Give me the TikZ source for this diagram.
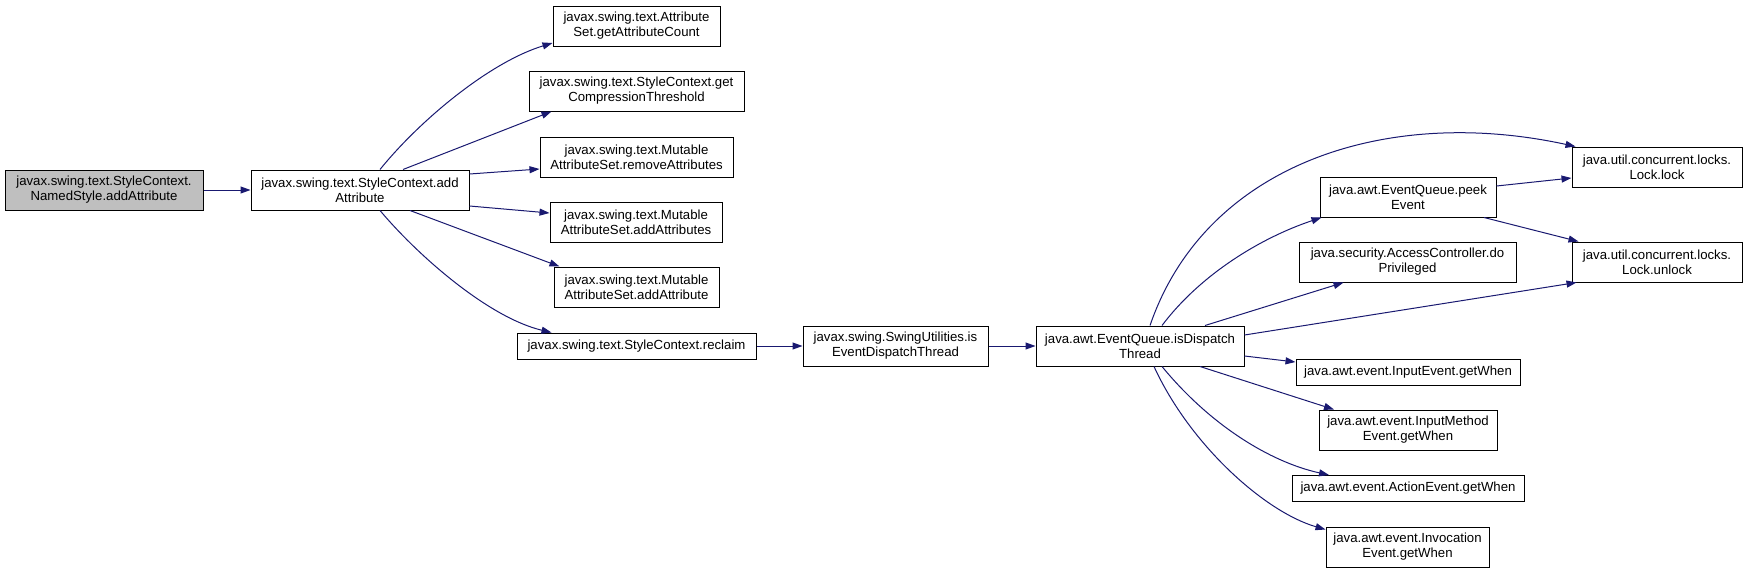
\documentclass[tikz,border=0pt]{standalone}
\usepackage{fontspec}
\setmainfont{Liberation Sans}
\usepackage{xcolor}
\usetikzlibrary{arrows.meta, positioning}
\definecolor{edgeblue}{HTML}{191970}
\definecolor{rootgray}{HTML}{BFBFBF}
\tikzset{
  fn/.style 2 args={draw=black, line width=1pt, inner sep=0pt, align=center,
    minimum width=#1, minimum height=#2, font=\fontsize{13.2}{15}\selectfont},
  call/.style={->, draw=edgeblue, line width=1pt},
}

\begin{document}
\begin{tikzpicture}[>={Triangle[length=10pt,width=7pt]}, x=1pt, y=-1pt]
            \useasboundingbox (0,0) rectangle (1744,573);
            % 1. Các hàm
            \node[fn={198pt}{40pt}, fill=rootgray] (named) at (104,190) {javax.swing.text.StyleContext.\\NamedStyle.addAttribute};
            \node[fn={218pt}{40pt}] (add) at (360,190) {javax.swing.text.StyleContext.add\\Attribute};
            \node[fn={167pt}{40pt}] (count) at (636.5,26) {javax.swing.text.Attribute\\Set.getAttributeCount};
            \node[fn={215pt}{40pt}] (thresh) at (636.5,91) {javax.swing.text.StyleContext.get\\CompressionThreshold};
            \node[fn={193pt}{40pt}] (remAttrs) at (636.5,157) {javax.swing.text.Mutable\\AttributeSet.removeAttributes};
            \node[fn={172pt}{40pt}] (addAttrs) at (636,222) {javax.swing.text.Mutable\\AttributeSet.addAttributes};
            \node[fn={165pt}{40pt}] (addAttr) at (636.5,287) {javax.swing.text.Mutable\\AttributeSet.addAttribute};
            \node[fn={239pt}{26pt}] (reclaim) at (636.5,346) {javax.swing.text.StyleContext.reclaim};
            \node[fn={185pt}{40pt}] (isEDT) at (895.5,346) {javax.swing.SwingUtilities.is\\EventDispatchThread};
            \node[fn={208pt}{40pt}] (isDisp) at (1140,346) {java.awt.EventQueue.isDispatch\\Thread};
            \node[fn={176pt}{40pt}] (peek) at (1408,197) {java.awt.EventQueue.peek\\Event};
            \node[fn={217pt}{40pt}] (doPriv) at (1407.5,262) {java.security.AccessController.do\\Privileged};
            \node[fn={224pt}{26pt}] (inWhen) at (1408,372) {java.awt.event.InputEvent.getWhen};
            \node[fn={178pt}{40pt}] (imWhen) at (1408,430) {java.awt.event.InputMethod\\Event.getWhen};
            \node[fn={232pt}{26pt}] (acWhen) at (1408,488.5) {java.awt.event.ActionEvent.getWhen};
            \node[fn={163pt}{40pt}] (ivWhen) at (1407.5,547) {java.awt.event.Invocation\\Event.getWhen};
            \node[fn={170pt}{40pt}] (lock) at (1657,167) {java.util.concurrent.locks.\\Lock.lock};
            \node[fn={170pt}{40pt}] (unlock) at (1657,262) {java.util.concurrent.locks.\\Lock.unlock};

            % 2. Lời gọi từ StyleContext
            \draw[call] (named) -- (add);
            \draw[call] ([xshift=20pt]add.north) .. controls (420,120) and (490,62) .. ([yshift=-17pt]count.west);
            \draw[call] ([xshift=43pt]add.north) -- ([xshift=-85pt]thresh.south);
            \draw[call] ([yshift=16pt]add.east) -- ([yshift=-12pt]remAttrs.west);
            \draw[call] ([yshift=-16pt]add.east) -- ([yshift=9pt]addAttrs.west);
            \draw[call] ([xshift=50pt]add.south) -- ([xshift=-77pt]addAttr.north);
            \draw[call] ([xshift=20pt]add.south) .. controls (420,258) and (490,318) .. ([xshift=-85pt]reclaim.north);
            \draw[call] (reclaim) -- (isEDT);
            \draw[call] (isEDT) -- (isDisp);

            % 3. Lời gọi từ EventQueue
            \draw[call] ([xshift=10pt]isDisp.north) .. controls (1205,165) and (1385,105) .. ([xshift=4pt]lock.north west);
            \draw[call] ([xshift=22pt]isDisp.north) .. controls (1200,275) and (1260,238) .. ([xshift=2pt]peek.south west);
            \draw[call] ([xshift=65pt]isDisp.north) -- ([xshift=-64pt]doPriv.south);
            \draw[call] ([yshift=11pt]isDisp.east) -- ([xshift=5pt]unlock.south west);
            \draw[call] ([yshift=11pt]peek.east) -- ([yshift=-11pt]lock.west);
            \draw[call] ([xshift=76pt]peek.south) -- ([xshift=7pt]unlock.north west);
            \draw[call] ([yshift=-10pt]isDisp.east) -- ([yshift=10pt]inWhen.west);
            \draw[call] ([xshift=60pt]isDisp.south) -- ([xshift=-74pt]imWhen.north);
            \draw[call] ([xshift=22pt]isDisp.south) .. controls (1210,425) and (1270,462) .. ([xshift=-79pt]acWhen.north);
            \draw[call] ([xshift=14pt]isDisp.south) .. controls (1190,445) and (1265,512) .. ([yshift=-3pt]ivWhen.north west);
        \end{tikzpicture}
\end{document}
